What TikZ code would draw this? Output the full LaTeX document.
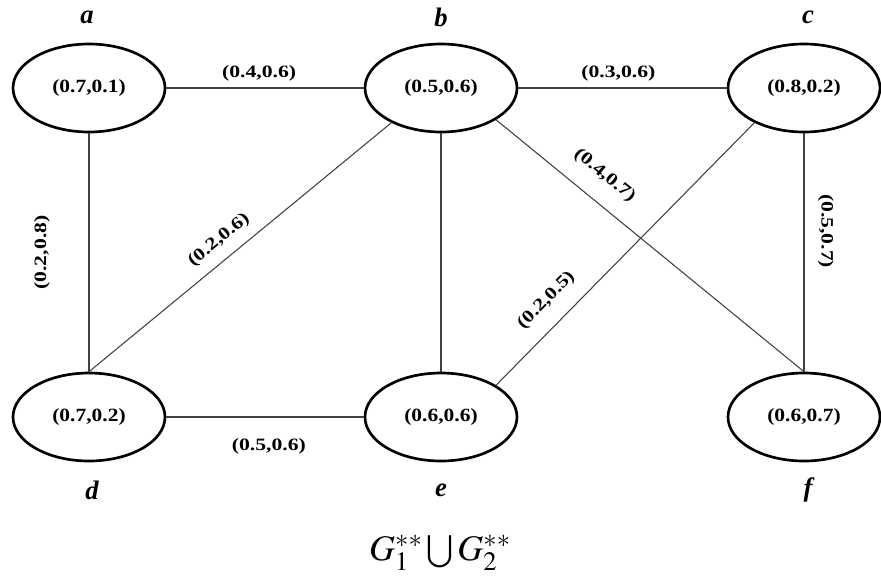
\documentclass[tikz,border=0pt]{standalone}
\usepackage{mathptmx}
\usepackage[no-math]{fontspec}
\setmainfont{Liberation Serif}
\usetikzlibrary{shapes.geometric}

\begin{document}
\begin{tikzpicture}[x=0.75pt, y=-0.75pt,
    vtx/.style={draw, ellipse, line width=2pt, minimum width=114pt, minimum height=66pt, inner sep=0pt,
      font=\fontsize{14}{16}\selectfont\bfseries\addfontfeature{FakeStretch=1.15}},
    wt/.style={text=black, font=\fontsize{13}{15}\selectfont\bfseries\addfontfeature{FakeStretch=1.25}, inner sep=0pt},
    lbl/.style={font=\fontsize{20}{24}\selectfont\bfseries\itshape},
    edge/.style={line width=0.8pt, black!75}]
    \useasboundingbox (0,0) rectangle (881,586);

    % Vertices
    \node[vtx] (a) at (89,88) {(0.7,0.1)};
    \node[vtx] (b) at (441,88) {(0.5,0.6)};
    \node[vtx] (c) at (804,88) {(0.8,0.2)};
    \node[vtx] (d) at (89,417) {(0.7,0.2)};
    \node[vtx] (e) at (441,417) {(0.6,0.6)};
    \node[vtx] (f) at (804,417) {(0.6,0.7)};

    % Vertex names
    \node[lbl] (na) at (87,17) {a};
    \node[lbl] (nb) at (441,17) {b};
    \node[lbl] (nc) at (808,17) {c};
    \node[lbl] (nd) at (92,490) {d};
    \node[lbl] (ne) at (441,490) {e};
    \node[lbl] (nf) at (808,490) {f};

    % Edges
    \draw[edge] (a) -- node[wt, pos=0.47, above=5pt] (wab) {(0.4,0.6)} (b);
    \draw[edge] (b) -- node[wt, pos=0.48, above=5pt] (wbc) {(0.3,0.6)} (c);
    \draw[edge] (d) -- node[wt, pos=0.52, below=16pt] (wde) {(0.5,0.6)} (e);
    \draw[edge] (d) -- node[wt, sloped, above=29pt] (wad) {(0.2,0.8)} (a);
    \draw[edge] (c) -- node[wt, pos=0.41, sloped, above=10pt] (wcf) {(0.5,0.7)} (f);
    \draw[edge] (e) -- (b);
    \draw[edge] (d.north) -- node[wt, pos=0.47, sloped, above=8pt] (wdb) {(0.2,0.6)} (b.215);
    \draw[edge] (b.330) -- node[wt, pos=0.30, sloped, above=13pt] (wbf) {(0.4,0.7)} (f.north);
    \draw[edge] (e.30) -- node[wt, pos=0.26, sloped, above=11.5pt] (wec) {(0.2,0.5)} (c.215);

    % Caption
    \node (cap) at (440,553) {\fontsize{27}{30}\selectfont $G_1^{**}\bigcup G_2^{**}$};
\end{tikzpicture}
\end{document}
